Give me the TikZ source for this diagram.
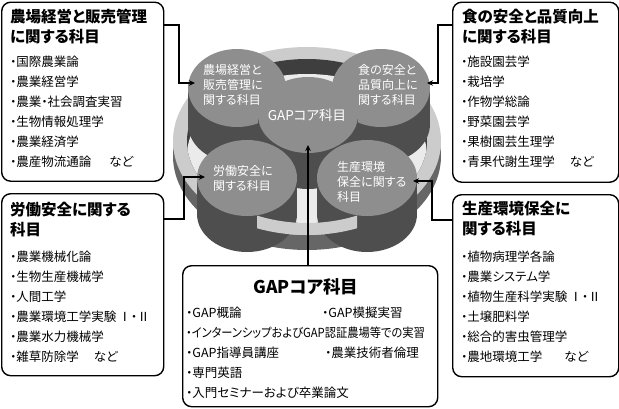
\documentclass[tikz,border=0pt]{standalone}
\usepackage{graphicx}
\usepackage{fontspec}
\setmainfont{Noto Sans CJK JP}[RawFeature=+palt]
\usetikzlibrary{arrows.meta}

\definecolor{disktop}{HTML}{8E8E8E}
\definecolor{diskside}{HTML}{4E4E4E}
\definecolor{ringtop}{HTML}{CCCCCC}
\definecolor{ringwall}{HTML}{666666}
\definecolor{innerwall}{HTML}{3E3E3E}
\definecolor{floorc}{HTML}{EBEBEB}

\tikzset{
  box/.style={draw=black, line width=1.4pt, rounded corners=9pt, fill=white,
    inner sep=0pt, anchor=north west},
  boxtitle/.style={anchor=west, inner sep=0pt, font=\fontsize{15.5}{18}\selectfont\bfseries},
  item/.style={anchor=west, inner sep=0pt, font=\fontsize{12.5}{15}\selectfont},
  disktext/.style={anchor=west, inner sep=0pt, text=white, font=\fontsize{12}{15}\selectfont},
  conn/.style={line width=1.3pt, -{Stealth[length=6pt,width=5.5pt]}},
}

% one cylinder: side and top
\newcommand{\cylside}[4]{% cx, cy, rx, ry
  \fill[diskside] (#1-#3,#2) rectangle (#1+#3,#2+36);
  \fill[diskside] (#1,#2+36) ellipse [x radius=#3, y radius=#4];}
\newcommand{\cyltop}[4]{%
  \fill[disktop] (#1,#2) ellipse [x radius=#3, y radius=#4];}

\begin{document}
\begin{tikzpicture}[x=1pt,y=-1pt]
\useasboundingbox (0,0) rectangle (619,408);
\fill[white] (0,0) rectangle (619,408);

% ---- ring on which the five subject groups stand ----
\fill[ringwall] (307,156) ellipse [x radius=134, y radius=94];
\fill[ringtop] (307,141) ellipse [x radius=134, y radius=94];
\fill[innerwall] (307,141) ellipse [x radius=120, y radius=82];
\begin{scope}
  \clip (307,141) ellipse [x radius=120, y radius=82];
  \fill[floorc] (307,156) ellipse [x radius=120, y radius=82];
\end{scope}

% back row
\cylside{237}{88}{49}{39}\cyltop{237}{88}{49}{39}
\cylside{381}{88}{49}{39}\cyltop{381}{88}{49}{39}
% centre
\cylside{308}{115}{50}{38}\cyltop{308}{115}{50}{38}
% front row sides
\cylside{247}{178}{50}{38}
\cylside{367}{178}{50}{38}
% front part of the ring
\begin{scope}
  \clip (257,200) rectangle (357,260);
  \fill[ringtop, even odd rule] (307,141) ellipse [x radius=134, y radius=94]
    (307,141) ellipse [x radius=120, y radius=82];
\end{scope}
% front row tops
\cyltop{247}{178}{50}{38}
\cyltop{367}{178}{50}{38}

% labels on the disks
\node[disktext] (d1a) at (203,70) {農場経営と};
\node[disktext] (d1b) at (203,85) {販売管理に};
\node[disktext] (d1c) at (203,100) {関する科目};
\node[disktext] (d2a) at (358,70) {食の安全と};
\node[disktext] (d2b) at (358,85) {品質向上に};
\node[disktext] (d2c) at (358,100) {関する科目};
\node[disktext, anchor=center, font=\fontsize{13.5}{15}\selectfont] (d0) at (307,115) {GAPコア科目};
\node[disktext] (d3a) at (213,171) {労働安全に};
\node[disktext] (d3b) at (213,186) {関する科目};
\node[disktext] (d4a) at (337,167) {生産環境};
\node[disktext] (d4b) at (337,182) {保全に関する};
\node[disktext] (d4c) at (337,197) {科目};

% ---- subject boxes ----
\node[box, minimum width=162pt, minimum height=179pt] (tlbox) at (1,1.5) {};
\node[boxtitle] (tlt1) at (10,17) {農場経営と販売管理};
\node[boxtitle] (tlt2) at (10,36.5) {に関する科目};
\foreach \t [count=\i] in {国際農業論, 農業経営学, 農業・社会調査実習, 生物情報処理学, 農業経済学, 農産物流通論\hspace{18pt}など}
  \node[item] (tli\i) at (10,42+20*\i) {・\t};

\node[box, minimum width=166pt, minimum height=180pt] (trbox) at (452,1.5) {};
\node[boxtitle] (trt1) at (462,17) {食の安全と品質向上};
\node[boxtitle] (trt2) at (462,36.5) {に関する科目};
\foreach \t [count=\i] in {施設園芸学, 栽培学, 作物学総論, 野菜園芸学, 果樹園芸生理学, 青果代謝生理学\hspace{15pt}など}
  \node[item] (tri\i) at (461,42+20*\i) {・\t};

\node[box, minimum width=162pt, minimum height=182pt] (mlbox) at (1,193) {};
\node[boxtitle] (mlt1) at (10,210) {労働安全に関する};
\node[boxtitle] (mlt2) at (10,229.5) {科目};
\foreach \t [count=\i] in {農業機械化論, 生物生産機械学, 人間工学, 農業環境工学実験\,Ⅰ・Ⅱ, 農業水力機械学, 雑草防除学\hspace{15pt}など}
  \node[item] (mli\i) at (10,237+20*\i) {・\t};

\node[box, minimum width=166pt, minimum height=182pt] (mrbox) at (452,194) {};
\node[boxtitle] (mrt1) at (462,209) {生産環境保全に};
\node[boxtitle] (mrt2) at (462,228.5) {関する科目};
\foreach \t [count=\i] in {植物病理学各論, 農業システム学, 植物生産科学実験\,Ⅰ・Ⅱ, 土壌肥料学, 総合的害虫管理学, 農地環境工学\hspace{22pt}など}
  \node[item] (mri\i) at (461,237+20*\i) {・\t};

\node[box, minimum width=255pt, minimum height=141pt] (gapbox) at (182,265) {};
\node[boxtitle, anchor=center, font=\fontsize{17.5}{20}\selectfont\bfseries] (gapt) at (306,287) {GAPコア科目};
\node[item] (g1) at (186,313) {・GAP概論};
\node[item] (g2) at (322,313) {・GAP模擬実習};
\node[item] (g3) at (186,333) {\scalebox{0.9}[1]{・インターンシップおよびGAP認証農場等での実習}};
\node[item] (g4) at (186,353) {・GAP指導員講座};
\node[item] (g5) at (325,353) {・農業技術者倫理};
\node[item] (g6) at (186,373) {・専門英語};
\node[item] (g7) at (186,393) {・入門セミナーおよび卒業論文};

% ---- connectors from the boxes to the disks ----
\coordinate (tlTurn) at (179,25);  \coordinate (tlTip) at (195,83);
\coordinate (trTurn) at (438,25);  \coordinate (trTip) at (427,83);
\coordinate (blTurn) at (184,219); \coordinate (blTip) at (205,177);
\coordinate (brTurn) at (432,220); \coordinate (brTip) at (413,181);
\coordinate (cTip) at (308,145);

\draw[conn] (tlbox.east |- tlTurn) -- (tlTurn) |- (tlTip);
\draw[conn] (trbox.west |- trTurn) -- (trTurn) |- (trTip);
\draw[conn] (mlbox.east |- blTurn) -- (blTurn) |- (blTip);
\draw[conn] (mrbox.west |- brTurn) -- (brTurn) |- (brTip);
\draw[conn] (gapbox.north -| cTip) -- (cTip);
\end{tikzpicture}
\end{document}
